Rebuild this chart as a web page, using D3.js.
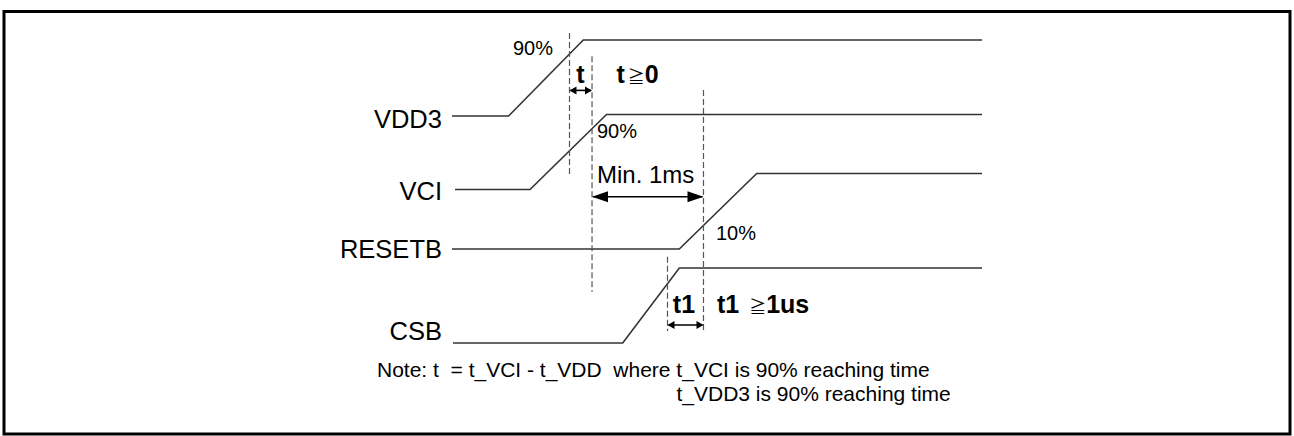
<!DOCTYPE html>
<html><head><meta charset="utf-8">
<script src="https://cdn.jsdelivr.net/npm/d3@7"></script>
<style>body{margin:0;background:#fff}svg{display:block}</style>
</head><body><svg id="c" width="1294" height="436"></svg>
<script>
// ---- data (time in arbitrary units, level in arbitrary units) ----
const signals   = ["VDD3", "VCI", "RESETB", "CSB"];
const startT    = [0, 0.57, 0, 0.19];
const riseStart = [10.68, 14.72, 42.89, 32.21];
const riseEnd   = [24.77, 29.15, 57.49, 42.89];
const endT      = [100, 100, 100, 100];
const lowLevel  = [74.92, 50.66, 31.02, 0];
const highLevel = [100, 75.41, 55.94, 24.75];
const labelLevel = [71.05, 47.19, 27.95, 0.99];
const labelT = -1.89;

// dashed reference markers: time, level from, level to
const markerT    = [22.17, 26.42, 47.45, 40.66];
const markerTop  = [102.3, 94.6, 83.5, 28.5];
const markerBot  = [55.2, 16.8, 3.96, 3.96];

// dimension arrows: from time, to time, level, head size
const arrowFrom  = [22.17, 26.42, 40.66];
const arrowTo    = [26.42, 47.45, 47.45];
const arrowLevel = [83.37, 48.28, 5.94];
const arrowHead  = ["small", "large", "small"];

// annotations
const pctText  = ["90%", "90%", "10%"];
const pctT     = [19.06, 27.36, 49.81];
const pctLevel = [95.05, 67.66, 33.99];
const pctAnchor = ["end", "start", "start"];

const noteLines = ["Note: t\u00a0\u00a0= t_VCI - t_VDD\u00a0\u00a0where t_VCI is 90% reaching time",
                   "t_VDD3 is 90% reaching time"];
const noteT = [-14.15, 42.35];
const noteLevel = [-11.2, -19.1];

// ---- scales ----
const x = d3.scaleLinear().domain([0, 100]).range([452, 982]);
const y = d3.scaleLinear().domain([0, 100]).range([343, 40]);

const svg = d3.select("#c");
const FONT = "Arial, 'Liberation Sans', Helvetica, sans-serif";

// frame
svg.append("rect").attr("x", 4).attr("y", 11.5).attr("width", 1286).attr("height", 422.5)
  .attr("fill", "none").attr("stroke", "#000").attr("stroke-width", 3);

// traces
const line = d3.line().x(d => x(d[0])).y(d => y(d[1]));
signals.forEach((s, i) => {
  const pts = [[startT[i], lowLevel[i]], [riseStart[i], lowLevel[i]],
               [riseEnd[i], highLevel[i]], [endT[i], highLevel[i]]];
  svg.append("path").attr("d", line(pts)).attr("fill", "none")
    .attr("stroke", "#333").attr("stroke-width", 1.6);
  svg.append("text").attr("x", x(labelT)).attr("y", y(labelLevel[i]))
    .attr("text-anchor", "end").attr("font-family", FONT).attr("font-size", 25.5)
    .attr("fill", "#000").text(s);
});

// dashed markers
markerT.forEach((t, i) => {
  svg.append("line").attr("x1", x(t)).attr("x2", x(t))
    .attr("y1", y(markerTop[i])).attr("y2", y(markerBot[i]))
    .attr("stroke", "#555").attr("stroke-width", 1.2).attr("stroke-dasharray", "6,3");
});

// arrows
arrowFrom.forEach((f, i) => {
  const x1 = x(f), x2 = x(arrowTo[i]), yy = y(arrowLevel[i]);
  const L = arrowHead[i] === "large" ? 16 : 7, H = arrowHead[i] === "large" ? 5.5 : 4;
  svg.append("line").attr("x1", x1 + 1).attr("x2", x2 - 1).attr("y1", yy).attr("y2", yy)
    .attr("stroke", "#000").attr("stroke-width", 1.6);
  svg.append("path").attr("d", `M${x1},${yy}L${x1 + L},${yy - H}L${x1 + L},${yy + H}Z`).attr("fill", "#000");
  svg.append("path").attr("d", `M${x2},${yy}L${x2 - L},${yy - H}L${x2 - L},${yy + H}Z`).attr("fill", "#000");
});

// percentage labels
pctText.forEach((p, i) => {
  svg.append("text").attr("x", x(pctT[i])).attr("y", y(pctLevel[i]))
    .attr("text-anchor", pctAnchor[i]).attr("font-family", FONT).attr("font-size", 20)
    .attr("fill", "#000").text(p);
});

// Min. 1ms
svg.append("text").attr("x", x(27.36)).attr("y", y(52.8))
  .attr("font-family", FONT).attr("font-size", 24).attr("fill", "#000").text("Min. 1ms");

// bold timing labels
function bold(tx, lv, anchor, parts) {
  const t = svg.append("text").attr("x", x(tx)).attr("y", y(lv)).attr("text-anchor", anchor)
    .attr("font-family", FONT).attr("font-size", 25).attr("font-weight", "bold").attr("fill", "#000");
  parts.forEach(p => {
    const ts = t.append("tspan").text(p.s);
    if (p.sym) ts.attr("font-size", 17).attr("font-weight", "normal")
      .attr("font-family", "'Noto Sans CJK JP', 'DejaVu Sans', sans-serif").attr("dx", 3);
  });
}
bold(24.25, 85.8, "middle", [{s: "t"}]);
bold(31.04, 85.8, "start", [{s: "t"}, {s: "\u2267", sym: true}, {s: "0"}]);
bold(43.77, 10.0, "middle", [{s: "t1"}]);
bold(50.0, 10.0, "start", [{s: "t1 "}, {s: "\u2267", sym: true}, {s: "1us"}]);

// note
noteLines.forEach((n, i) => {
  svg.append("text").attr("x", x(noteT[i])).attr("y", y(noteLevel[i]))
    .attr("font-family", FONT).attr("font-size", 21).attr("fill", "#000").text(n);
});
</script></body></html>
